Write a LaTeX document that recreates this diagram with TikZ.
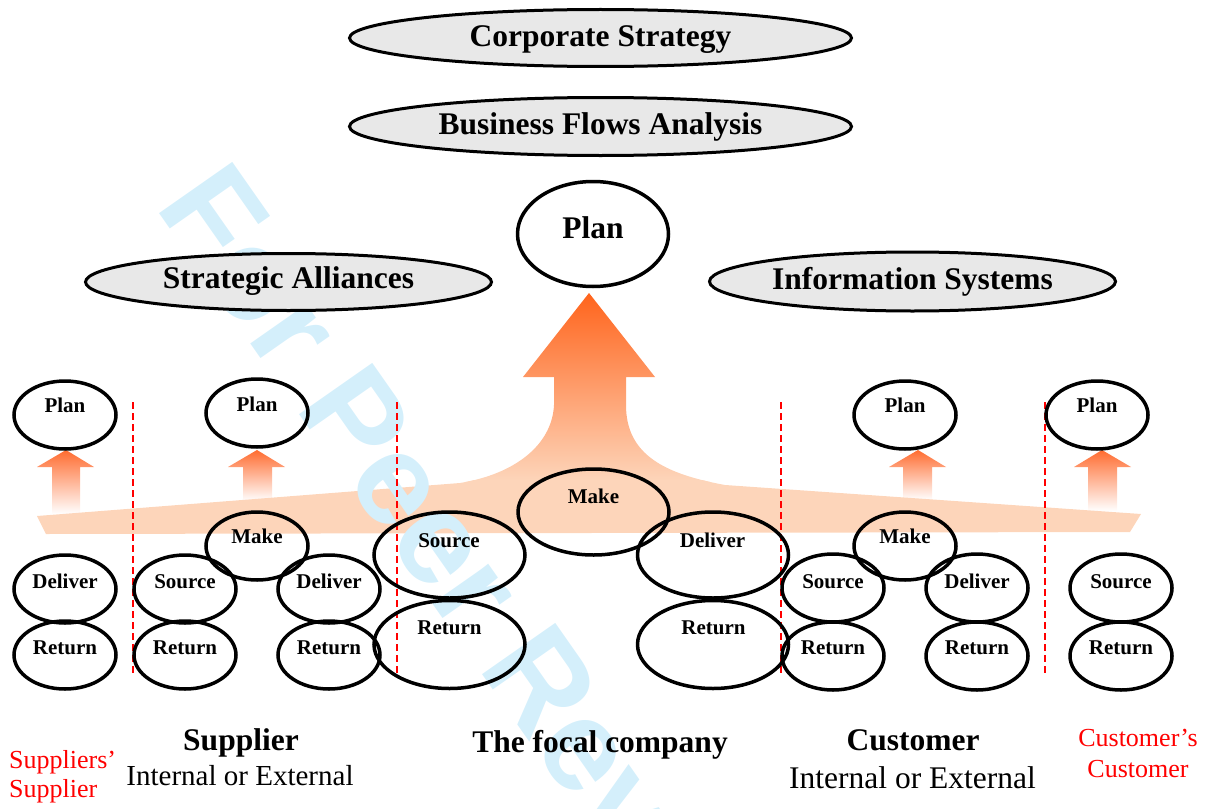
\documentclass[tikz,border=0pt]{standalone}
\usepackage{fontspec}
\setmainfont{Liberation Serif}
\newfontfamily\wmfont{Liberation Sans}
\usetikzlibrary{shapes.geometric}
\definecolor{peach}{RGB}{253,213,186}
\definecolor{arroworange}{RGB}{255,100,28}
\definecolor{smallorange}{RGB}{255,108,48}
\definecolor{ovalgray}{RGB}{232,232,232}
\definecolor{wmblue}{RGB}{212,239,251}
\tikzset{
  oval/.style={ellipse, draw=black, line width=3.5pt, inner sep=0pt, minimum width=102pt, minimum height=68pt},
  focaloval/.style={ellipse, draw=black, line width=3.5pt, inner sep=0pt, minimum width=151pt, minimum height=86pt},
  grayoval/.style={ellipse, draw=black, fill=ovalgray, line width=3pt, inner sep=0pt},
  lbl/.style={anchor=base, inner sep=0pt, font=\bfseries\fontsize{21}{25}\selectfont},
  biglbl/.style={anchor=base, inner sep=0pt, font=\bfseries\fontsize{31.5}{36}\selectfont},
  subl/.style={anchor=base, inner sep=0pt},
  redl/.style={red, inner sep=0pt, font=\fontsize{26}{31}\selectfont},
  divider/.style={red, line width=2pt, dash pattern=on 7pt off 4pt},
}
\begin{document}
\begin{tikzpicture}[x=1pt,y=-1pt]
\useasboundingbox (0,0) rectangle (1212,808);

% small upward arrows
\foreach \tx/\hl/\hr/\sl/\sr/\bot in {66/37/94/52/80/514, 257/228/285/243/272/501, 918/889/946/903/932/500, 1102/1074/1131/1088/1117/511}
  \shade[top color=smallorange, bottom color=white] (\tx,450) -- (\hr,467) -- (\sr,467) -- (\sr,\bot) -- (\sl,\bot) -- (\sl,467) -- (\hl,467) -- cycle;

% band with big arrow
\def\bandpath{(589,293) -- (655,377) -- (626,377) -- (626,405) .. controls (626,455) and (665,474) .. (725,485) -- (1141,514) -- (1130,532) -- (46,534) -- (37,516) -- (460,483) .. controls (515,474) and (552,445) .. (554,405) -- (554,377) -- (523,377) -- cycle}
\begin{scope}
  \clip \bandpath;
  \shade[top color=arroworange, bottom color=peach] (420,293) rectangle (780,481);
  \fill[peach] (0,480) rectangle (1212,540);
\end{scope}

% watermark
\node[wmblue, rotate=-55, anchor=base west, inner sep=0pt, font=\wmfont\bfseries\fontsize{130}{130}\selectfont] (wm) at (154,206) {For Peer Review};

% dividers
\foreach \x in {133,397,781,1045}
  \draw[divider] (\x,402) -- (\x,674);

% top ellipses
\node[grayoval, minimum width=502pt, minimum height=57pt] (corp) at (600.5,38) {};
\node[biglbl] (corpt) at (600.5,47) {Corporate Strategy};
\node[grayoval, minimum width=502pt, minimum height=58pt] (bfa) at (600.5,126.5) {};
\node[biglbl] (bfat) at (600.5,134) {Business Flows Analysis};
\node[grayoval, minimum width=406pt, minimum height=57pt] (sa) at (288.5,282) {};
\node[biglbl] (sat) at (288.5,288) {Strategic Alliances};
\node[grayoval, minimum width=406pt, minimum height=59pt] (is) at (912.5,281.5) {};
\node[biglbl] (ist) at (912.5,289) {Information Systems};
\node[ellipse, draw=black, line width=3.5pt, inner sep=0pt, minimum width=151pt, minimum height=105pt] (bigplan) at (593,234) {};
\node[biglbl] (bigplant) at (593,238) {Plan};

% suppliers' supplier
\node[oval] (p1) at (65,415) {};   \node[lbl] (p1t) at (65,412) {Plan};
\node[oval] (d1) at (65,589) {};   \node[lbl] (d1t) at (65,588) {Deliver};
\node[oval] (r1) at (65,655) {};   \node[lbl] (r1t) at (65,654) {Return};

% supplier
\node[oval] (p2) at (257,413) {};  \node[lbl] (p2t) at (257,411) {Plan};
\node[oval] (m2) at (257,546) {};  \node[lbl] (m2t) at (257,543) {Make};
\node[oval] (s2) at (185,589) {};  \node[lbl] (s2t) at (185,588) {Source};
\node[oval] (d2) at (329,589) {};  \node[lbl] (d2t) at (329,588) {Deliver};
\node[oval] (r2a) at (185,655) {}; \node[lbl] (r2at) at (185,654) {Return};
\node[oval] (r2b) at (329,655) {}; \node[lbl] (r2bt) at (329,654) {Return};

% focal company
\node[focaloval] (m3) at (593.5,512) {};   \node[lbl] (m3t) at (593.5,503) {Make};
\node[focaloval] (s3) at (449.5,555) {};   \node[lbl] (s3t) at (449,547) {Source};
\node[focaloval] (d3) at (713,555) {};     \node[lbl] (d3t) at (712.5,547) {Deliver};
\node[focaloval, minimum height=88pt] (r3a) at (449.5,644.5) {}; \node[lbl] (r3at) at (449.5,634) {Return};
\node[focaloval, minimum height=88pt] (r3b) at (713,644.5) {};   \node[lbl] (r3bt) at (713.5,634) {Return};

% customer
\node[oval] (p4) at (905,415) {};  \node[lbl] (p4t) at (905,412) {Plan};
\node[oval] (m4) at (905,546) {};  \node[lbl] (m4t) at (905,543) {Make};
\node[oval] (s4) at (833,588) {};  \node[lbl] (s4t) at (833,588) {Source};
\node[oval] (d4) at (977,588) {};  \node[lbl] (d4t) at (977,588) {Deliver};
\node[oval] (r4a) at (833,656) {}; \node[lbl] (r4at) at (833,654) {Return};
\node[oval] (r4b) at (977,656) {}; \node[lbl] (r4bt) at (977,654) {Return};

% customer's customer
\node[oval] (p5) at (1097,415) {}; \node[lbl] (p5t) at (1097,412) {Plan};
\node[oval] (s5) at (1121,588) {}; \node[lbl] (s5t) at (1121,588) {Source};
\node[oval] (r5) at (1121,656) {}; \node[lbl] (r5t) at (1121,654) {Return};

% bottom labels
\node[biglbl] (supl) at (241,750) {Supplier};
\node[subl, font=\fontsize{29}{34}\selectfont] (supie) at (240,785) {Internal or External};
\node[biglbl] (focal) at (600,752) {The focal company};
\node[biglbl] (cust) at (913,750) {Customer};
\node[subl, font=\fontsize{31.5}{36}\selectfont] (custie) at (912.5,788) {Internal or External};
\node[redl, anchor=base west, align=left] (ss1) at (9,768) {Suppliers’};
\node[redl, anchor=base west] (ss2) at (9,797) {Supplier};
\node[redl, anchor=base] (cc1) at (1138,746) {Customer’s};
\node[redl, anchor=base] (cc2) at (1138,777) {Customer};
\end{tikzpicture}
\end{document}
